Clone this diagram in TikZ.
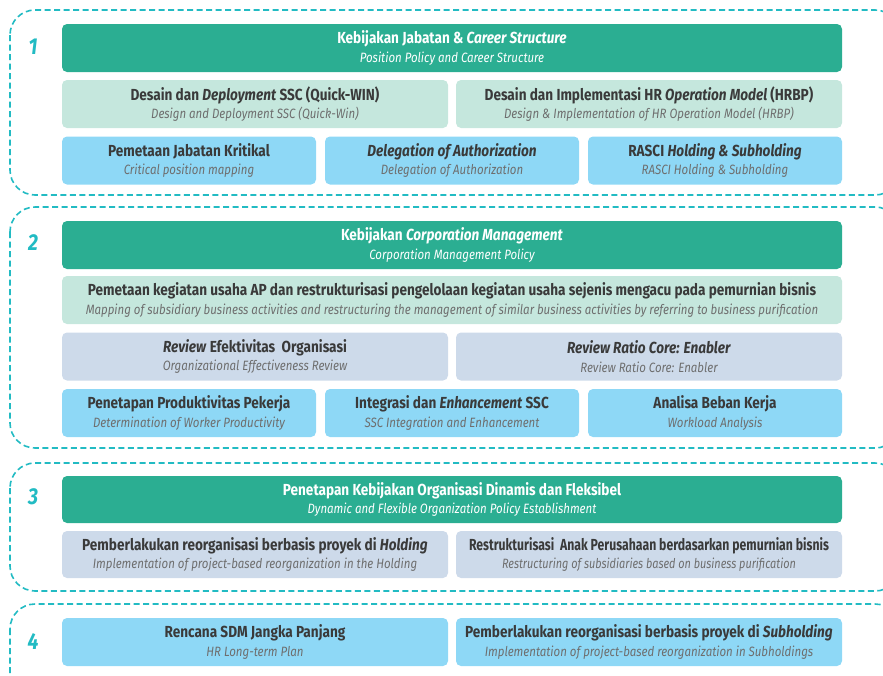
\documentclass[tikz,border=0pt]{standalone}
\usepackage{fontspec}
\usepackage{graphicx}
\setmainfont{Fira Sans}[FakeStretch=0.85]
\definecolor{dkgreen}{HTML}{2BAE92}
\definecolor{ltgreen}{HTML}{C5E7DD}
\definecolor{ltblue}{HTML}{8ED8F6}
\definecolor{gblue}{HTML}{CDDAEA}
\definecolor{dteal}{HTML}{22BBC3}
\definecolor{txt}{HTML}{3A3A3A}
\definecolor{subc}{HTML}{6E6E6E}
\newcommand\ttl[1]{{\fontsize{16}{18.5}\selectfont\bfseries #1}}
\newcommand\sbt[1]{{\fontsize{13.5}{18.5}\selectfont\itshape #1}}
\tikzset{
  card/.style={rounded corners=5pt, inner sep=0pt, align=center, text=txt,
    font=\fontsize{13.5}{18.5}\selectfont},
  gbar/.style={card, fill=dkgreen, text=white, minimum width=780pt, minimum height=48pt},
  half/.style={card, minimum width=386pt, minimum height=48pt},
  third/.style={card, minimum width=254pt, minimum height=48pt},
  sect/.style={draw=dteal, line width=1.6pt, dash pattern=on 6pt off 3.5pt, rounded corners=25pt},
  num/.style={text=dteal, font=\fontsize{23}{23}\selectfont\bfseries\itshape, inner sep=0pt}
}
\newcommand\sub[1]{\sbt{\color{subc}#1}}
\newcommand\wsub[1]{\sbt{#1}}
\begin{document}
\begin{tikzpicture}[x=1pt,y=-1pt]
\useasboundingbox (0,0) rectangle (883,675);
\clip (0,0) rectangle (883,675);
% sections
\draw[sect] (10,10) rectangle (900,195);
\draw[sect] (10,207) rectangle (900,448);
\draw[sect] (10,463) rectangle (900,591);
\draw[sect] (10,604) rectangle (900,710);
% numbers
\node[num] (n1) at (33,47) {1};
\node[num] (n2) at (33,243) {2};
\node[num] (n3) at (33,497) {3};
\node[num] (n4) at (33,642) {4};
% section 1
\node[gbar] (g1) at (452,48) {\ttl{Kebijakan Jabatan \& \textit{Career Structure}}\\ \wsub{Position Policy and Career Structure}};
\node[half, fill=ltgreen] (a1) at (255,104) {\ttl{Desain dan \textit{Deployment} SSC (Quick-WIN)}\\ \sub{Design and Deployment SSC (Quick-Win)}};
\node[half, fill=ltgreen] (a2) at (649,104) {\ttl{Desain dan Implementasi HR \textit{Operation Model} (HRBP)}\\ \sub{Design \& Implementation of HR Operation Model (HRBP)}};
\node[third, fill=ltblue] (b1) at (189,160.5) {\ttl{Pemetaan Jabatan Kritikal}\\ \sub{Critical position mapping}};
\node[third, fill=ltblue] (b2) at (452,160.5) {\ttl{\textit{Delegation of Authorization}}\\ \sub{Delegation of Authorization}};
\node[third, fill=ltblue] (b3) at (715,160.5) {\ttl{RASCI \textit{Holding \& Subholding}}\\ \sub{RASCI Holding \& Subholding}};
% section 2
\node[gbar] (g2) at (452,245) {\ttl{Kebijakan \textit{Corporation Management}}\\ \wsub{Corporation Management Policy}};
\node[card, fill=ltgreen, minimum width=780pt, minimum height=48pt] (c1) at (452,300) {\ttl{Pemetaan kegiatan usaha AP dan restrukturisasi pengelolaan kegiatan usaha sejenis mengacu pada pemurnian bisnis}\\ \sub{Mapping of subsidiary business activities and restructuring the management of similar business activities by referring to business purification}};
\node[half, fill=gblue] (d1) at (255,356.5) {\ttl{\textit{Review} Efektivitas\ \ Organisasi}\\ \sub{Organizational Effectiveness Review}};
\node[half, fill=gblue] (d2) at (649,356.5) {\ttl{\textit{Review Ratio Core: Enabler}}\\ \sub{Review Ratio Core: Enabler}};
\node[third, fill=ltblue] (e1) at (189,413) {\ttl{Penetapan Produktivitas Pekerja}\\ \sub{Determination of Worker Productivity}};
\node[third, fill=ltblue] (e2) at (452,413) {\ttl{Integrasi dan \textit{Enhancement} SSC}\\ \sub{SSC Integration and Enhancement}};
\node[third, fill=ltblue] (e3) at (715,413) {\ttl{Analisa Beban Kerja}\\ \sub{Workload Analysis}};
% section 3
\node[gbar, minimum height=47pt] (g3) at (452,499.5) {\ttl{Penetapan Kebijakan Organisasi Dinamis dan Fleksibel}\\ \wsub{Dynamic and Flexible Organization Policy Establishment}};
\node[half, fill=gblue, minimum height=47pt] (f1) at (255,554.5) {\ttl{Pemberlakukan reorganisasi berbasis proyek di \textit{Holding}}\\ \sub{Implementation of project-based reorganization in the Holding}};
\node[half, fill=gblue, minimum height=47pt] (f2) at (649,554.5) {\scalebox{0.9}[1]{\ttl{Restrukturisasi\ \ Anak Perusahaan berdasarkan pemurnian bisnis}}\\ \scalebox{0.95}[1]{\sub{Restructuring of subsidiaries based on business purification}}};
% section 4
\node[half, fill=ltblue] (h1) at (255,642) {\ttl{Rencana SDM Jangka Panjang}\\ \sub{HR Long-term Plan}};
\node[half, fill=ltblue] (h2) at (649,642) {\ttl{Pemberlakukan reorganisasi berbasis proyek di \textit{Subholding}}\\ \sub{Implementation of project-based reorganization in Subholdings}};
\end{tikzpicture}
\end{document}
